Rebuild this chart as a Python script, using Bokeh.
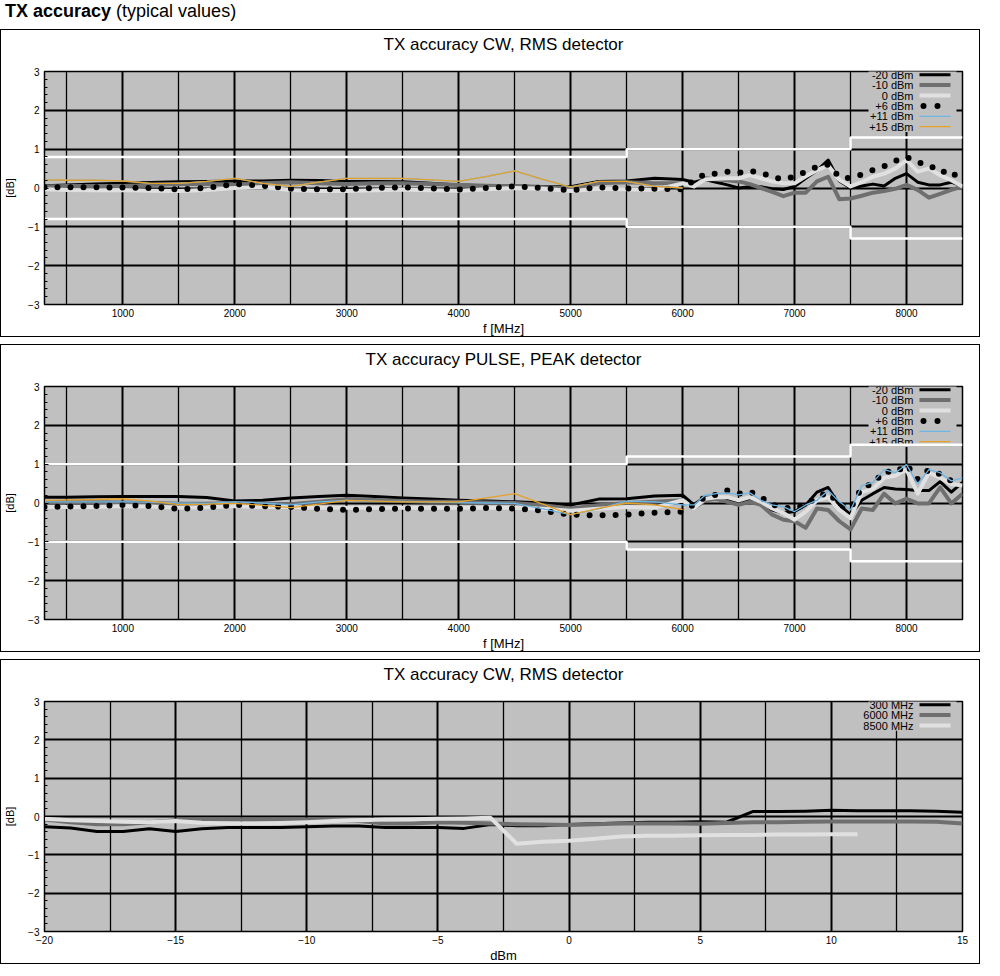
import numpy as np
from bokeh.plotting import figure
from bokeh.models import Range1d, FixedTicker, Div, Label, BoxAnnotation, Title
from bokeh.layouts import column
from bokeh.embed import file_html
from bokeh.resources import INLINE

FONT = "Liberation Sans"

# ------------------------------------------------------------------ data
FREQ = [300, 500, 750, 1000, 1250, 1500, 1750, 2000, 2250, 2500, 2750,
        3000, 3250, 3500, 3750, 4000, 4250, 4500, 4750, 5000, 5250, 5500, 5750,
        6000, 6100, 6200, 6300, 6400, 6500, 6600, 6700, 6800, 6900, 7000,
        7100, 7200, 7300, 7400, 7500, 7600, 7700, 7800, 7900, 8000,
        8100, 8200, 8300, 8400, 8500]
FREQ_LOW = FREQ[:24]          # 300 ... 6000 MHz

LEVELS = ["-20 dBm", "-10 dBm", "0 dBm", "+6 dBm", "+11 dBm", "+15 dBm"]

# TX accuracy CW, RMS detector  [dB]
CW_M20 = [0.06, 0.08, 0.10, 0.12, 0.14, 0.16, 0.17, 0.18, 0.18, 0.20, 0.19,
          0.17, 0.17, 0.16, 0.12, 0.08, 0.06, 0.05, 0.04, 0.03, 0.17, 0.18, 0.25,
          0.22, 0.15, 0.22, 0.15, 0.08, 0.00, 0.03, 0.03, -0.02, -0.04, 0.04,
          0.25, 0.45, 0.72, 0.18, 0.00, 0.05, 0.10, 0.05, 0.25, 0.37,
          0.15, 0.08, 0.08, 0.15, 0.04]
CW_M10 = [0.04, 0.05, 0.05, 0.05, 0.08, 0.10, 0.10, 0.08, 0.12, 0.15, 0.12,
          0.10, 0.12, 0.12, 0.10, 0.08, 0.06, 0.04, 0.02, 0.00, 0.12, 0.15, 0.12,
          0.12, 0.04, 0.25, 0.22, 0.20, 0.17, 0.10, 0.00, -0.10, -0.21, -0.12,
          -0.12, 0.17, 0.29, -0.29, -0.27, -0.20, -0.12, -0.08, -0.02, 0.08,
          -0.05, -0.25, -0.15, -0.05, 0.04]
CW_0 = [-0.03, -0.05, -0.06, -0.05, -0.07, -0.08, -0.05, 0.00, 0.02, -0.05, -0.08,
        -0.08, -0.06, -0.04, -0.06, -0.07, -0.03, 0.00, -0.02, -0.08, -0.02, -0.03, -0.05,
        0.12, 0.04, 0.22, 0.24, 0.25, 0.25, 0.33, 0.25, 0.17, 0.12, 0.12,
        0.30, 0.46, 0.58, 0.21, 0.04, 0.15, 0.29, 0.37, 0.50, 0.72,
        0.42, 0.50, 0.33, 0.20, 0.04]
CW_P6 = [0.02, 0.02, 0.02, 0.01, 0.00, -0.04, 0.00, 0.10, 0.06, -0.02, -0.03,
         -0.03, 0.00, 0.02, -0.01, -0.04, 0.00, 0.04, 0.00, -0.06, 0.02, -0.01, -0.02,
         -0.03, 0.20, 0.36, 0.37, 0.42, 0.39, 0.44, 0.40, 0.28, 0.22, 0.30,
         0.42, 0.55, 0.60, 0.28, 0.25, 0.35, 0.46, 0.56, 0.70, 0.80,
         0.66, 0.60, 0.40, 0.45, 0.10]
CW_P11 = [0.21, 0.20, 0.20, 0.18, 0.12, 0.12, 0.17, 0.25, 0.12, 0.04, 0.15,
          0.25, 0.25, 0.25, 0.21, 0.17, 0.30, 0.44, 0.22, 0.02, 0.17, 0.17, 0.04,
          0.00]
CW_P15 = [0.21, 0.20, 0.20, 0.18, 0.12, 0.12, 0.17, 0.25, 0.12, 0.04, 0.15,
          0.25, 0.25, 0.25, 0.21, 0.17, 0.30, 0.44, 0.22, 0.02, 0.17, 0.17, 0.04,
          0.00]

# TX accuracy PULSE, PEAK detector  [dB]
PU_M20 = [0.15, 0.15, 0.16, 0.17, 0.17, 0.17, 0.14, 0.05, 0.07, 0.13, 0.17,
          0.20, 0.17, 0.13, 0.10, 0.07, 0.05, 0.03, 0.00, -0.05, 0.10, 0.11, 0.18,
          0.20, -0.04, 0.15, 0.15, 0.11, -0.01, 0.07, -0.05, -0.18, -0.26, -0.22,
          -0.05, 0.28, 0.40, -0.05, -0.30, 0.07, 0.24, 0.40, 0.36, 0.35,
          0.32, 0.32, 0.55, 0.28, 0.53]
PU_M10 = [0.02, 0.02, 0.02, 0.01, 0.00, -0.02, -0.02, 0.00, -0.02, -0.03, 0.03,
          0.10, 0.08, 0.05, 0.03, 0.03, 0.01, 0.00, -0.06, -0.14, -0.06, 0.00, 0.03,
          0.07, -0.14, 0.07, 0.10, 0.03, -0.05, 0.03, -0.05, -0.30, -0.43, -0.47,
          -0.64, -0.14, -0.18, -0.47, -0.68, -0.14, -0.18, 0.24, -0.01, 0.11,
          -0.01, -0.01, 0.40, -0.01, 0.24]
PU_0 = [-0.10, -0.10, -0.10, -0.08, -0.09, -0.12, -0.11, -0.08, -0.10, -0.10, -0.12,
        -0.12, -0.12, -0.12, -0.12, -0.12, -0.12, -0.12, -0.15, -0.20, -0.15, -0.10, -0.12,
        0.07, -0.14, 0.11, 0.15, 0.15, 0.07, 0.15, 0.03, -0.14, -0.26, -0.43,
        -0.22, 0.07, 0.15, -0.18, -0.39, 0.28, 0.36, 0.65, 0.70, 0.86,
        0.24, 0.78, 0.65, 0.49, 0.45]
PU_P6 = [-0.10, -0.09, -0.08, -0.05, -0.08, -0.15, -0.12, -0.05, -0.08, -0.10, -0.15,
         -0.18, -0.16, -0.14, -0.15, -0.15, -0.13, -0.14, -0.20, -0.30, -0.32, -0.30, -0.25,
         -0.22, -0.04, 0.15, 0.21, 0.32, 0.24, 0.30, 0.15, -0.04, -0.12, -0.14,
         -0.04, 0.15, 0.28, -0.04, -0.14, 0.40, 0.49, 0.82, 0.78, 0.99,
         0.61, 0.86, 0.74, 0.57, 0.65]
PU_P11 = [0.03, 0.03, 0.03, 0.03, 0.02, 0.00, -0.01, 0.03, 0.00, -0.05, 0.03,
          0.07, 0.05, 0.04, 0.02, 0.01, 0.00, -0.01, -0.15, -0.30, -0.15, 0.05, 0.03,
          -0.05, -0.05, 0.20, 0.24, 0.26, 0.21, 0.26, 0.07, -0.05, -0.10, -0.22,
          -0.05, 0.07, 0.32, 0.03, -0.18, 0.45, 0.53, 0.86, 0.78, 0.99,
          0.49, 0.86, 0.78, 0.57, 0.65]
PU_P15 = [0.07, 0.08, 0.09, 0.11, 0.05, -0.04, -0.03, -0.01, -0.06, -0.12, -0.03,
          0.07, 0.05, 0.03, 0.03, 0.03, 0.13, 0.24, -0.03, -0.30, -0.14, 0.00, -0.05,
          -0.17]

# Specification limits (+/-) per frequency band
LIM_EDGES = [300, 5500, 7500, 8500]
CW_LIM = [0.8, 1.0, 1.3]
PULSE_LIM = [1.0, 1.2, 1.5]

# TX accuracy vs level (CW, RMS detector)
LEVEL_DBM = [-20, -19, -18, -17, -16, -15, -14, -13, -12, -11, -10, -9, -8, -7,
             -6, -5, -4, -3, -2, -1, 0, 1, 2, 3, 4, 5, 6, 7, 8, 9, 10, 11, 12,
             13, 14, 15]
FREQS_LBL = ["300 MHz", "6000 MHz", "8500 MHz"]
LV_300 = [-0.27, -0.30, -0.39, -0.39, -0.32, -0.39, -0.32, -0.29, -0.29, -0.29,
          -0.27, -0.25, -0.25, -0.29, -0.29, -0.29, -0.31, -0.21, -0.24, -0.24,
          -0.21, -0.19, -0.17, -0.15, -0.15, -0.14, -0.15, 0.13, 0.13, 0.14,
          0.16, 0.15, 0.15, 0.15, 0.14, 0.11]
LV_6000 = [-0.08, -0.15, -0.20, -0.20, -0.15, -0.10, -0.07, -0.07, -0.08, -0.08,
           -0.08, -0.10, -0.12, -0.18, -0.18, -0.15, -0.16, -0.18, -0.20, -0.21,
           -0.22, -0.20, -0.18, -0.18, -0.18, -0.19, -0.17, -0.15, -0.15, -0.14,
           -0.13, -0.13, -0.13, -0.13, -0.14, -0.18]
LV_8500 = [-0.06, -0.10, -0.12, -0.14, -0.15, -0.12, -0.16, -0.18, -0.18, -0.17,
           -0.15, -0.12, -0.10, -0.08, -0.07, -0.06, -0.05, -0.03, -0.71, -0.66,
           -0.63, -0.58, -0.52, -0.50, -0.50, -0.49, -0.48, -0.48, -0.47, -0.47,
           -0.46, -0.46]

FREQ_MAJOR = [1000, 2000, 3000, 4000, 5000, 6000, 7000, 8000]
FREQ_MINOR = [500, 1500, 2500, 3500, 4500, 5500, 6500, 7500]
DBM_MAJOR = [-20, -15, -10, -5, 0, 5, 10, 15]
DBM_MINOR = [-17.5, -12.5, -7.5, -2.5, 2.5, 7.5, 12.5]
DB_MAJOR = [-3, -2, -1, 0, 1, 2, 3]

# ------------------------------------------------------------------ styles
STYLES = [
    dict(line_color="black", line_width=3, line_join="round"),
    dict(line_color="#6f6f6f", line_width=4, line_join="round"),
    dict(line_color="#e0e0e0", line_width=4, line_join="round"),
    dict(line_color="black", line_width=6, line_dash="0 13", line_cap="round"),
    dict(line_color="#6cb6e6", line_width=1.3),
    dict(line_color="#e6a128", line_width=1.3),
]
Y_MINOR = [round(v, 1) for v in np.arange(-3, 3.001, 0.2) if abs(v - round(v)) > 1e-6]

W = 980
BORDER_L, BORDER_R, BORDER_T = 41, 19, 38
FRAME_R = W - BORDER_R          # canvas x of frame right edge
CANVAS = dict(x_units="canvas", y_units="canvas")
BOX_CANVAS = dict(left_units="canvas", right_units="canvas",
                  top_units="canvas", bottom_units="canvas")


def make_panel(title, xr, major, minor, xlabel, height):
    p = figure(width=W, height=height, x_range=Range1d(*xr), y_range=Range1d(-3, 3),
               output_backend="svg", toolbar_location=None,
               min_border_left=BORDER_L, min_border_right=BORDER_R,
               min_border_top=BORDER_T, min_border_bottom=32)
    p.styles = {"border": "1px solid #000"}
    p.title.text = title
    p.title.align = "center"
    p.title.text_font = FONT
    p.title.text_font_size = "17px"
    p.title.text_font_style = "normal"
    p.title.text_color = "black"
    p.title.standoff = 4
    # empty spacer between the title and the plotting frame
    p.add_layout(Title(text=" ", text_font_size="1px", standoff=13), "above")
    p.background_fill_color = "#c0c0c0"
    p.border_fill_color = "white"
    p.outline_line_color = "black"
    p.outline_line_width = 1.5

    p.xaxis.ticker = FixedTicker(ticks=major, minor_ticks=minor)
    p.yaxis.ticker = FixedTicker(ticks=DB_MAJOR, minor_ticks=Y_MINOR)
    p.xgrid.grid_line_color = "black"
    p.xgrid.grid_line_width = 2
    p.xgrid.minor_grid_line_color = "black"
    p.xgrid.minor_grid_line_width = 1.3
    p.ygrid.grid_line_color = "black"
    p.ygrid.grid_line_width = 2

    for ax in (p.xaxis[0], p.yaxis[0]):
        ax.axis_line_color = "black"
        ax.major_label_text_font = FONT
        ax.major_label_text_font_size = "10px"
        ax.major_label_text_color = "black"
        ax.axis_label_text_font = FONT
        ax.axis_label_text_font_style = "normal"
        ax.axis_label_text_color = "black"
    p.xaxis.major_tick_in = 0
    p.xaxis.major_tick_out = 0
    p.xaxis.minor_tick_in = 0
    p.xaxis.minor_tick_out = 0
    p.xaxis.major_label_standoff = 4
    p.xaxis.axis_label = xlabel
    p.xaxis.axis_label_text_font_size = "13px"
    p.xaxis.axis_label_standoff = 1
    p.yaxis.major_tick_in = 4
    p.yaxis.major_tick_out = 0
    p.yaxis.minor_tick_in = 3
    p.yaxis.minor_tick_out = 0
    p.yaxis.major_label_standoff = 5
    p.yaxis.axis_label = "[dB]"
    p.yaxis.axis_label_text_font_size = "11px"
    p.yaxis.axis_label_standoff = 9
    return p


def add_legend(p, labels, styles):
    """gnuplot-style key: right-aligned text, line sample to its right."""
    row_h = 10.4
    top = BORDER_T
    n = len(labels)
    p.add_layout(BoxAnnotation(left=FRAME_R - 95, right=FRAME_R - 7,
                               top=top, bottom=top + row_h * n,
                               fill_color="#c0c0c0", fill_alpha=1, line_color=None,
                               level="underlay", **BOX_CANVAS))
    for i, (lab, st) in enumerate(zip(labels, styles)):
        yc = top + row_h * (i + 0.5)
        p.add_layout(Label(x=FRAME_R - 50, y=yc, text=lab,
                           text_align="right", text_baseline="middle",
                           text_font=FONT, text_font_size="11px", text_color="black",
                           level="underlay", **CANVAS))
        if st.get("line_dash"):
            for dx in (-43, -29):
                p.add_layout(BoxAnnotation(left=FRAME_R + dx, right=FRAME_R + dx + 6,
                                           top=yc - 3, bottom=yc + 3, border_radius=3,
                                           fill_color=st["line_color"], fill_alpha=1,
                                           line_color=None, level="underlay", **BOX_CANVAS))
        else:
            hw = st["line_width"] / 2
            p.add_layout(BoxAnnotation(left=FRAME_R - 44, right=FRAME_R - 13,
                                       top=yc - hw, bottom=yc + hw,
                                       fill_color=st["line_color"], fill_alpha=1,
                                       line_color=None, level="underlay", **BOX_CANVAS))


def freq_panel(title, lim, series, ser_x):
    p = make_panel(title, (300, 8500), FREQ_MAJOR, FREQ_MINOR, "f [MHz]", 308)
    add_legend(p, LEVELS, STYLES)
    up = lim + [lim[-1]]
    lo = [-v for v in up]
    p.step(LIM_EDGES, up, mode="after", line_color="white", line_width=2.5)
    p.step(LIM_EDGES, lo, mode="after", line_color="white", line_width=2.5)
    for ys, xs, st in zip(series, ser_x, STYLES):
        p.line(xs, ys, **st)
    return p


p1 = freq_panel("TX accuracy CW, RMS detector", CW_LIM,
                [CW_M20, CW_M10, CW_0, CW_P6, CW_P11, CW_P15],
                [FREQ, FREQ, FREQ, FREQ, FREQ_LOW, FREQ_LOW])
p2 = freq_panel("TX accuracy PULSE, PEAK detector", PULSE_LIM,
                [PU_M20, PU_M10, PU_0, PU_P6, PU_P11, PU_P15],
                [FREQ, FREQ, FREQ, FREQ, FREQ, FREQ_LOW])

p3 = make_panel("TX accuracy CW, RMS detector", (-20, 15), DBM_MAJOR, DBM_MINOR, "dBm", 305)
add_legend(p3, FREQS_LBL, STYLES[:3])
p3.line(LEVEL_DBM, LV_300, **STYLES[0])
p3.line(LEVEL_DBM, LV_6000, **STYLES[1])
p3.line(LEVEL_DBM[:len(LV_8500)], LV_8500, **STYLES[2])

head = Div(text="<b>TX accuracy</b> (typical values)", width=W, height=12,
           styles={"font-family": "Liberation Sans, Arial, sans-serif",
                   "font-size": "18px", "line-height": "12px", "color": "black"})

layout = column(head, p1, p2, p3, spacing=7)
open("out.html", "w").write(file_html(layout, INLINE))
